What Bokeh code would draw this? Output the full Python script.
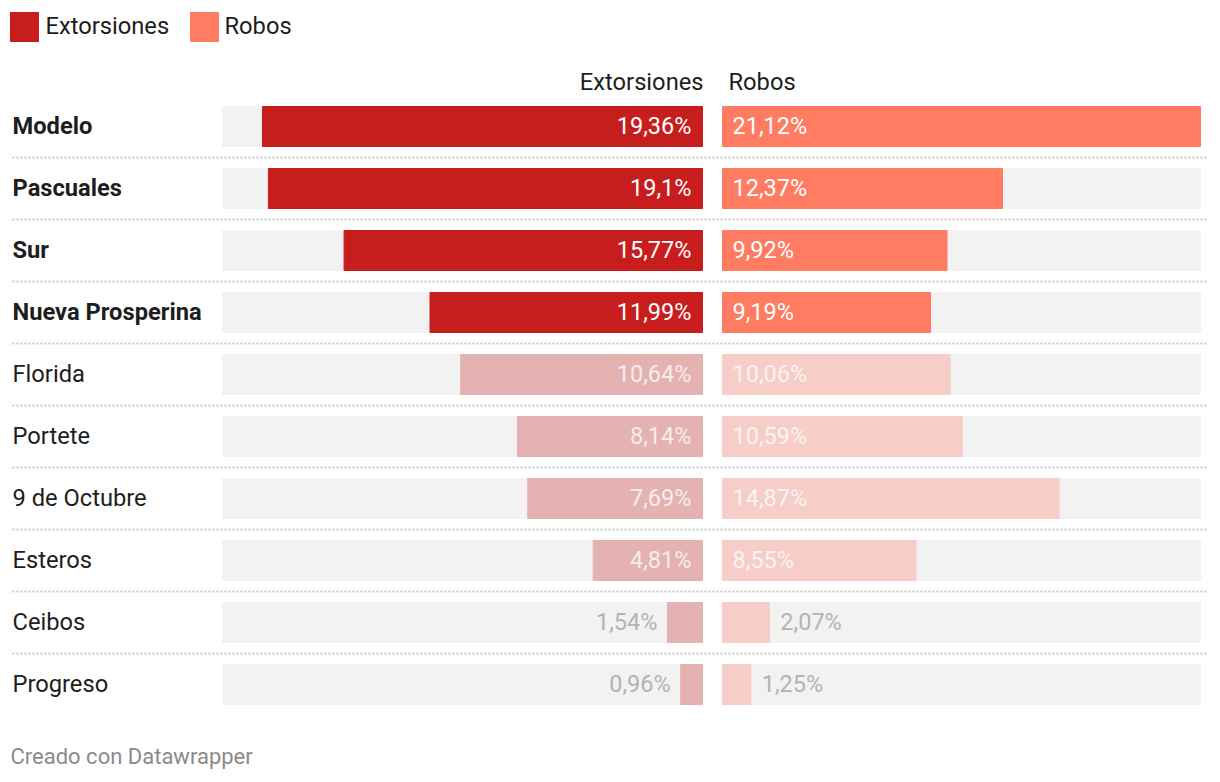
from bokeh.plotting import figure
from bokeh.models import Range1d, ColumnDataSource
from bokeh.core.properties import value
from bokeh.embed import file_html
from bokeh.resources import INLINE

# ---------------- data ----------------
barrios = ["Modelo", "Pascuales", "Sur", "Nueva Prosperina", "Florida",
           "Portete", "9 de Octubre", "Esteros", "Ceibos", "Progreso"]
extorsiones = [19.36, 19.1, 15.77, 11.99, 10.64, 8.14, 7.69, 4.81, 1.54, 0.96]
robos = [21.12, 12.37, 9.92, 9.19, 10.06, 10.59, 14.87, 8.55, 2.07, 1.25]
destacado = [True, True, True, True, False, False, False, False, False, False]
series = ["Extorsiones", "Robos"]

# ---------------- style ----------------
FONT = value("Roboto")
FS = "23.7px"
C_EXT, C_ROB = "#c71e1d", "#ff7c62"
C_EXT_F, C_ROB_F = "#e4b2b1", "#f6cdc7"
C_BG = "#f2f2f2"
C_TEXT = "#1d1d1d"

W, H = 1220, 782
ROW0, ROWH, BARH = 126, 62, 40
L_END, L_W = 702, 480
R_START, R_W = 722, 478

MAXV = max(max(extorsiones), max(robos))
SXL = L_W / MAXV
SXR = R_W / MAXV

x_left = Range1d(L_END / SXL, -(W - L_END) / SXL)       # reversed: values grow leftwards
x_right = Range1d(-R_START / SXR, (W - R_START) / SXR)
y_rng = Range1d((H - ROW0) / ROWH, -ROW0 / ROWH)


def xr(px):
    return (px - R_START) / SXR


def yr(py):
    return (py - ROW0) / ROWH


p = figure(width=W, height=H, x_range=x_left, y_range=y_rng,
           x_axis_type=None, y_axis_type=None, output_backend="svg",
           toolbar_location=None, min_border=0)
p.extra_x_ranges = {"r": x_right}
p.grid.visible = False
p.outline_line_color = None
p.background_fill_color = "white"
p.border_fill_color = "white"

n = len(barrios)
rows = list(range(n))
bh = BARH / ROWH


def fmt(v):
    return f"{v:g}".replace(".", ",") + "%"


# separators
sep_y = [i + 0.5 for i in range(n - 1)]
p.segment(x0=[xr(12)] * len(sep_y), x1=[xr(1208)] * len(sep_y), y0=sep_y, y1=sep_y,
          x_range_name="r", line_color="#c8c8c8", line_width=2, line_dash="2 2")

# background bars
p.hbar(y=rows, left=0, right=MAXV, height=bh, color=C_BG)
p.hbar(y=rows, left=0, right=MAXV, height=bh, color=C_BG, x_range_name="r")


def panel(vals, sx, col, col_f, rng):
    inside = [v * sx > 80 for v in vals]
    src = ColumnDataSource(dict(
        y=rows, v=vals,
        color=[col if d else col_f for d in destacado],
        lx=[0 if ins else v for v, ins in zip(vals, inside)],
        txt=[fmt(v) for v in vals],
        tcol=["#ffffff" if ins else "#b3b3b3" for ins in inside],
        talpha=[1.0 if (ins and d) else (0.78 if ins else 1.0) for ins, d in zip(inside, destacado)],
        off=[(-11 if ins else -10) if rng is None else (10 if ins else 11) for ins in inside],
    ))
    kw = {} if rng is None else {"x_range_name": rng}
    p.hbar(y="y", left=0, right="v", height=bh, color="color", source=src, **kw)
    p.text(x="lx", y="y", text="txt", source=src, text_color="tcol", text_alpha="talpha",
           x_offset="off", y_offset=-1, text_align="right" if rng is None else "left",
           text_baseline="middle", text_font=FONT, text_font_size="23.5px", **kw)


panel(extorsiones, SXL, C_EXT, C_EXT_F, None)
panel(robos, SXR, C_ROB, C_ROB_F, "r")

# row labels
bold_rows = [i for i in rows if destacado[i]]
norm_rows = [i for i in rows if not destacado[i]]
p.text(x=[xr(12)] * len(bold_rows), y=bold_rows, text=[barrios[i] for i in bold_rows],
       x_range_name="r", text_color=C_TEXT, text_font=FONT, text_font_style="bold",
       text_font_size=FS, text_baseline="middle", y_offset=-1)
p.text(x=[xr(12)] * len(norm_rows), y=norm_rows, text=[barrios[i] for i in norm_rows],
       x_range_name="r", text_color=C_TEXT, text_font=FONT,
       text_font_size=FS, text_baseline="middle", y_offset=-1)

# column headers
p.text(x=[0], y=[yr(81)], text=[series[0]], text_align="right", x_offset=1,
       text_color=C_TEXT, text_font=FONT, text_font_size=FS, text_baseline="middle")
p.text(x=[0], y=[yr(81)], text=[series[1]], x_range_name="r", x_offset=6,
       text_color=C_TEXT, text_font=FONT, text_font_size=FS, text_baseline="middle")

# legend
p.rect(x=[xr(24), xr(204)], y=[yr(26.5)] * 2, width=28, height=29,
       width_units="screen", height_units="screen", color=[C_EXT, C_ROB], x_range_name="r")
p.text(x=[xr(45), xr(224)], y=[yr(25)] * 2, text=series, x_range_name="r",
       text_color=C_TEXT, text_font=FONT, text_font_size=FS, text_baseline="middle")

# footer
p.text(x=[xr(10)], y=[yr(756)], text=["Creado con Datawrapper"], x_range_name="r",
       text_color="#8a8a8a", text_font=FONT, text_font_size="22px", text_baseline="middle")

open("out.html", "w").write(file_html(p, INLINE))
